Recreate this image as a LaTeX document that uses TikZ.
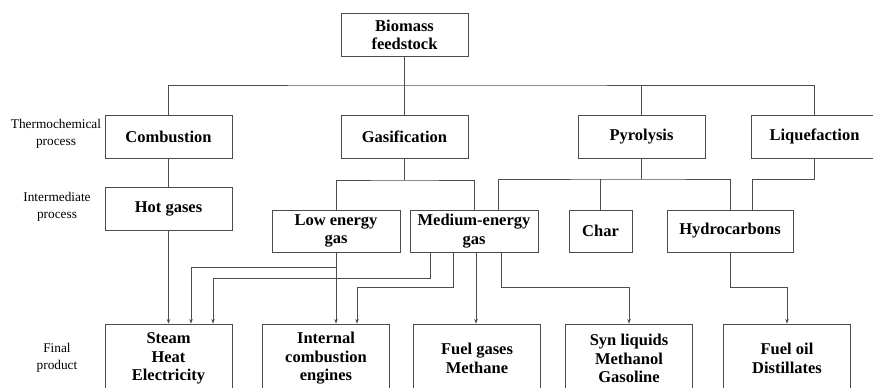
\documentclass[tikz,border=0pt]{standalone}
\usepackage{fontspec}
\setmainfont{Liberation Serif}
\newfontfamily\serifbox{Liberation Serif}[BoldFont={* Bold}]
\usetikzlibrary{arrows.meta}
\begin{document}
\begin{tikzpicture}[x=1pt,y=-1pt,
  box/.style={draw=black!70,line width=0.9pt,fill=white,inner sep=0pt,
    minimum width=127pt,minimum height=43pt,align=center,
    font=\serifbox\fontsize{16.5}{18.5}\selectfont\bfseries},
  finalbox/.style={box,minimum height=69pt},
  sidelabel/.style={align=center,font=\serifbox\fontsize{13.3}{17}\selectfont},
  link/.style={draw=black!70,line width=0.9pt},
  arrowlink/.style={link,-{Stealth[length=4.5pt,width=3.5pt]}}]
\useasboundingbox (0,0) rectangle (873,388);
\clip (0,0) rectangle (873,388);

% side labels
\node[sidelabel] (lthermo) at (56,134) {Thermochemical\\process};
\node[sidelabel] (linter)  at (57,207) {Intermediate\\process};
\node[sidelabel] (lfinal)  at (57,358) {Final\\product};

% feedstock and thermochemical processes
\node[box] (bio)  at (404.5,35)   {Biomass\\feedstock};
\node[box] (comb) at (168.5,136.5) {Combustion};
\node[box] (gas)  at (404.5,136.5) {Gasification};
\node[box] (pyr)  at (641.5,136.5) {Pyrolysis};
\node[box] (liq)  at (814.5,136.5) {Liquefaction};

% intermediate processes
\node[box] (hot)  at (168.5,208.5) {Hot gases};
\node[box,minimum width=128pt,minimum height=42pt] (low) at (336,231) {Low energy\\gas};
\node[box,minimum width=128pt,minimum height=42pt] (med) at (474,231) {Medium-energy\\gas};
\node[box,minimum width=63pt,minimum height=42pt] (char) at (600.5,231) {Char};
\node[box,minimum width=126pt,minimum height=42pt] (hyd) at (730,231) {Hydrocarbons};

% final products
\node[finalbox] (steam) at (168.5,358.5) {Steam\\Heat\\Electricity};
\node[finalbox] (ice)   at (326,358.5)   {Internal\\combustion\\engines};
\node[finalbox] (fuel)  at (477,358.5)   {Fuel gases\\Methane};
\node[finalbox] (syn)   at (629,358.5)   {Syn liquids\\Methanol\\Gasoline};
\node[finalbox] (oil)   at (787,358.5)   {Fuel oil\\Distillates};

% junction points of the bus lines
\coordinate (bus) at (404.5,85);
\coordinate (gbus) at (404.5,180);
\coordinate (pbus) at (641.5,179);
\coordinate (lowj) at (336,267);

% feedstock to the four processes
\draw[link] (bio) -- (gas);
\draw[link] (comb.north) |- (bus) -| (liq.north);
\draw[link] (pyr.north) -- (pyr.north |- bus);

% process to intermediate
\draw[link] (comb) -- (hot);
\draw[link] (gas) -- (gbus);
\draw[link] (low.north) |- (gbus) -| (med.north);
\draw[link] (pyr) -- (pbus);
\draw[link] ([xshift=24pt]med.north) |- (pbus) -| (hyd.north);
\draw[link] (char.north) -- (char.north |- pbus);
\draw[link] (liq.south) -- (liq.south |- pbus) -| ([xshift=22pt]hyd.north);

% intermediate to final products
\draw[arrowlink] (hot) -- (hot.south |- steam.north);
\draw[arrowlink] (low.south) -- (low.south |- ice.north);
\draw[arrowlink] (lowj) -| ([xshift=22.5pt]steam.north);
\draw[arrowlink] ([xshift=-44pt]med.south) -- ++(0,26) -| ([xshift=44.5pt]steam.north);
\draw[arrowlink] ([xshift=-21pt]med.south) -- ++(0,35) -| ([xshift=31pt]ice.north);
\draw[arrowlink] ([xshift=2pt]med.south) -- ([xshift=2pt]med.south |- fuel.north);
\draw[arrowlink] ([xshift=27pt]med.south) -- ++(0,35) -| (syn.north);
\draw[arrowlink] (hyd.south) -- ++(0,35) -| (oil.north);
\end{tikzpicture}
\end{document}
